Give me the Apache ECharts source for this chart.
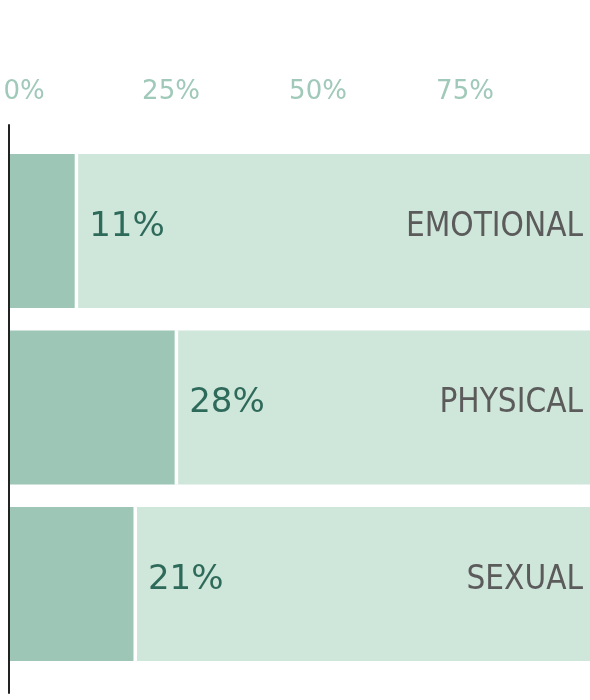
<!DOCTYPE html>
<html>
<head>
<meta charset="utf-8">
<script src="https://cdn.jsdelivr.net/npm/echarts@6/dist/echarts.min.js"></script>
<style>
  html, body { margin: 0; padding: 0; background: #fff; }
  #main { width: 590px; height: 700px; }
</style>
</head>
<body>
<div id="main"></div>
<script>
// abuse types, top to bottom
var categories = ['EMOTIONAL', 'PHYSICAL', 'SEXUAL'];
// share in percent
var shares = [11, 28, 21];
// rest of the bar up to 100%
var rest = [89, 72, 79];
var tickLabels = ['0%', '25%', '50%', '75%'];

var chart = echarts.init(document.getElementById('main'), null, { renderer: 'canvas' });

var option = {
  animation: false,
  grid: [
    // main bars; 100% sits a bit past the right edge
    { left: 10, top: 142.75, width: 588, height: 529.5, outerBoundsMode: 'none', containLabel: false },
    // only for the tall vertical axis line
    { left: 8.5, top: 125, width: 10, bottom: 7, outerBoundsMode: 'none' }
  ],
  xAxis: [{
    type: 'value',
    gridIndex: 0,
    position: 'top',
    min: 0,
    max: 100,
    interval: 25,
    axisLine: { show: false },
    axisTick: { show: false },
    splitLine: { show: false },
    axisLabel: {
      showMaxLabel: false,
      margin: 38,
      padding: [0, 0, 0, 28],
      color: '#a0c9b9',
      fontSize: 26,
      fontFamily: 'DejaVu Sans',
      formatter: function (v) { return tickLabels[v / 25] || ''; }
    }
  }, {
    type: 'value',
    gridIndex: 1,
    show: false
  }],
  yAxis: [{
    type: 'category',
    gridIndex: 0,
    data: categories,
    inverse: true,
    position: 'right',
    axisLine: { show: false },
    axisTick: { show: false },
    axisLabel: {
      inside: true,
      margin: 15,
      formatter: function (name) { return '{c|' + name + '}'; },
      rich: {
        c: {
          padding: [0, 0, 8, 0],
          color: '#5b5b5b',
          fontSize: 33,
          fontFamily: 'DejaVu Sans Condensed'
        }
      }
    },
    z: 10
  }, {
    type: 'value',
    gridIndex: 1,
    min: 0,
    max: 1,
    axisLine: { show: true, lineStyle: { color: '#222', width: 2 } },
    axisTick: { show: false },
    axisLabel: { show: false },
    splitLine: { show: false },
    z: 20
  }],
  series: [{
    name: 'share',
    type: 'bar',
    stack: 'all',
    barWidth: 154,
    z: 3,
    data: shares,
    // white shadow makes the small gap before the light part
    itemStyle: { color: '#9dc6b6', shadowColor: '#fff', shadowOffsetX: 3.5, shadowBlur: 0 }
  }, {
    name: 'rest',
    type: 'bar',
    stack: 'all',
    barWidth: 154,
    z: 2,
    data: rest,
    itemStyle: { color: '#cfe6da' },
    label: {
      show: true,
      position: 'insideLeft',
      distance: 14.5,
      offset: [0, -4],
      color: '#2e6a5a',
      fontSize: 34,
      fontFamily: 'DejaVu Sans',
      formatter: function (p) { return shares[p.dataIndex] + '%'; }
    }
  }]
};

chart.setOption(option);
</script>
</body>
</html>
